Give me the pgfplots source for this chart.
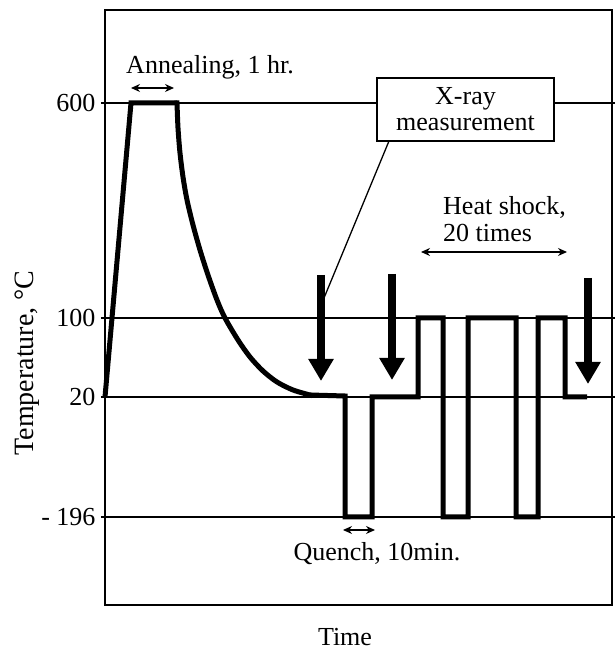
\documentclass[border=0pt]{standalone}
\usepackage{fontspec}
\setmainfont{Liberation Serif}
\usepackage{pgfplots}
\pgfplotsset{compat=1.18}
\usetikzlibrary{arrows.meta}

% thermal history of the sample: x = time (arbitrary), y = position of the level
\begin{document}
\begin{tikzpicture}[every node/.append style={font=\fontsize{26}{30}\selectfont}]
\begin{axis}[
    scale only axis,
    width=507pt, height=595pt,
    xmin=105, xmax=612,
    ymin=-605, ymax=-10,
    xtick=\empty,
    ytick={-103,-318,-397,-517},
    yticklabels={600,100,20,{- 196}},
    yticklabel style={xshift=-2pt},
    tick align=outside,
    major tick length=4pt,
    tick style={black, line width=1.2pt},
    ymajorgrids,
    major grid style={black, line width=1.3pt},
    axis line style={line width=1.5pt},
    clip=false,
]
% heating and annealing
\addplot[black, line width=5pt, line join=miter, mark=none] coordinates {
    (105,-397) (131,-103) (177,-103)
};
% slow cooling
\addplot[black, line width=5pt, line cap=rect, smooth, tension=0.5, mark=none] coordinates {
    (177,-103) (178,-128) (180,-153) (183,-177) (187,-200) (193,-225)
    (200,-250) (208,-275) (217,-300) (225,-318) (238,-340) (250,-357)
    (263,-371) (277,-382) (293,-390) (310,-395)
};
% quench and heat shocks
\addplot[black, line width=5pt, line join=miter, mark=none] coordinates {
    (310,-395) (345,-396) (345,-517) (372,-517) (372,-397) (418,-397) (418,-318)
    (443,-318) (443,-517) (468,-517) (468,-318) (516,-318) (516,-517)
    (538,-517) (538,-318) (565,-318) (565,-397) (587,-397)
};

% X-ray measurement callout
\draw[line width=1.3pt] (axis cs:389,-141) -- (axis cs:324,-298);
\draw[line width=1.5pt, fill=white] (axis cs:377,-78) rectangle (axis cs:554,-141);
\node[align=center, inner sep=0pt] at (axis cs:465.5,-109) {X-ray\\[-4pt]measurement};

% measurement arrows
\draw[line width=7.5pt, -{Triangle[width=24pt,length=22pt]}]
  (axis cs:321,-275) -- (axis cs:321,-381);
\draw[line width=7.5pt, -{Triangle[width=24pt,length=22pt]}]
  (axis cs:392,-274) -- (axis cs:392,-380);
\draw[line width=7.5pt, -{Triangle[width=24pt,length=22pt]}]
  (axis cs:588,-278) -- (axis cs:588,-384);

% annotations
\draw[line width=1.3pt, {Stealth[length=9pt,width=8pt]}-{Stealth[length=9pt,width=8pt]}]
  (axis cs:131,-88) -- (axis cs:174,-88);
\node[anchor=base] at (axis cs:210,-74) {Annealing, 1 hr.};

\draw[line width=1.3pt, {Stealth[length=9pt,width=8pt]}-{Stealth[length=9pt,width=8pt]}]
  (axis cs:421,-252) -- (axis cs:567,-252);
\node[anchor=base west, inner sep=0pt] at (axis cs:443,-215) {Heat shock,};
\node[anchor=base west, inner sep=0pt] at (axis cs:443,-242) {20 times};

\draw[line width=1.3pt, {Stealth[length=9pt,width=8pt]}-{Stealth[length=9pt,width=8pt]}]
  (axis cs:343,-530) -- (axis cs:375,-530);
\node[anchor=base] at (axis cs:377,-561) {Quench, 10min.};

% axis titles
\node[anchor=base, inner sep=0pt] at (axis cs:345,-645) {Time};
\node[rotate=90, font=\fontsize{28}{32}\selectfont] at (axis cs:27,-363) {Temperature, °C};
\end{axis}
\pgfresetboundingbox
\useasboundingbox ([shift={(-105pt,-47pt)}]current axis.south west) rectangle ++(614pt,652pt);
\end{tikzpicture}
\end{document}
